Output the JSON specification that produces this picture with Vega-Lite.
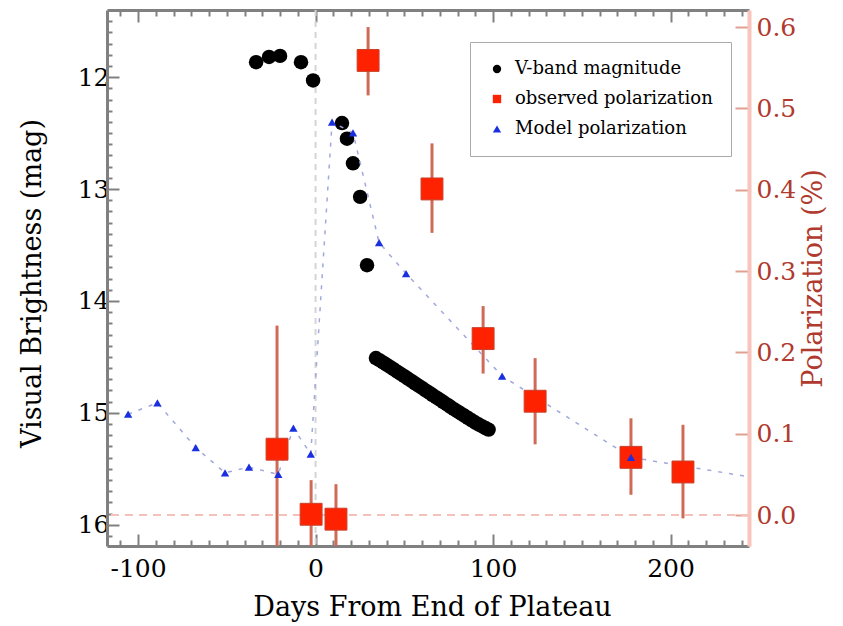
{
  "$schema": "https://vega.github.io/schema/vega-lite/v6.json",
  "width": 642,
  "height": 536,
  "autosize": {"type": "none"},
  "padding": {"left": 107, "top": 10, "right": 94, "bottom": 80},
  "background": "white",
  "config": {
    "font": "DejaVu Serif",
    "view": {"stroke": null},
    "axis": {"labelFont": "DejaVu Serif", "titleFont": "DejaVu Serif", "labelFontSize": 25, "titleFontSize": 27, "titleFontWeight": "normal", "grid": false, "labelColor": "#000000", "titleColor": "#000000"}
  },
  "datasets": {
    "vband": [
      {"day": -33.5, "mag": 11.866, "series": "V-band magnitude"},
      {"day": -26.2, "mag": 11.82, "series": "V-band magnitude"},
      {"day": -20.0, "mag": 11.81, "series": "V-band magnitude"},
      {"day": -8.2, "mag": 11.866, "series": "V-band magnitude"},
      {"day": -1.4, "mag": 12.03, "series": "V-band magnitude"},
      {"day": 14.9, "mag": 12.41, "series": "V-band magnitude"},
      {"day": 17.7, "mag": 12.55, "series": "V-band magnitude"},
      {"day": 21.1, "mag": 12.77, "series": "V-band magnitude"},
      {"day": 25.1, "mag": 13.07, "series": "V-band magnitude"},
      {"day": 29.0, "mag": 13.68, "series": "V-band magnitude"},
      {"day": 34, "mag": 14.51, "series": "V-band magnitude"},
      {"day": 36, "mag": 14.53, "series": "V-band magnitude"},
      {"day": 38, "mag": 14.55, "series": "V-band magnitude"},
      {"day": 40, "mag": 14.57, "series": "V-band magnitude"},
      {"day": 42, "mag": 14.59, "series": "V-band magnitude"},
      {"day": 44, "mag": 14.61, "series": "V-band magnitude"},
      {"day": 46, "mag": 14.632, "series": "V-band magnitude"},
      {"day": 48, "mag": 14.652, "series": "V-band magnitude"},
      {"day": 50, "mag": 14.673, "series": "V-band magnitude"},
      {"day": 52, "mag": 14.694, "series": "V-band magnitude"},
      {"day": 54, "mag": 14.715, "series": "V-band magnitude"},
      {"day": 56, "mag": 14.736, "series": "V-band magnitude"},
      {"day": 58, "mag": 14.757, "series": "V-band magnitude"},
      {"day": 60, "mag": 14.778, "series": "V-band magnitude"},
      {"day": 62, "mag": 14.8, "series": "V-band magnitude"},
      {"day": 64, "mag": 14.82, "series": "V-band magnitude"},
      {"day": 66, "mag": 14.841, "series": "V-band magnitude"},
      {"day": 68, "mag": 14.862, "series": "V-band magnitude"},
      {"day": 70, "mag": 14.883, "series": "V-band magnitude"},
      {"day": 72, "mag": 14.904, "series": "V-band magnitude"},
      {"day": 74, "mag": 14.925, "series": "V-band magnitude"},
      {"day": 76, "mag": 14.946, "series": "V-band magnitude"},
      {"day": 78, "mag": 14.967, "series": "V-band magnitude"},
      {"day": 80, "mag": 14.987, "series": "V-band magnitude"},
      {"day": 82, "mag": 15.007, "series": "V-band magnitude"},
      {"day": 84, "mag": 15.027, "series": "V-band magnitude"},
      {"day": 86, "mag": 15.047, "series": "V-band magnitude"},
      {"day": 88, "mag": 15.067, "series": "V-band magnitude"},
      {"day": 90, "mag": 15.087, "series": "V-band magnitude"},
      {"day": 92, "mag": 15.105, "series": "V-band magnitude"},
      {"day": 94, "mag": 15.122, "series": "V-band magnitude"},
      {"day": 96, "mag": 15.138, "series": "V-band magnitude"},
      {"day": 97.5, "mag": 15.15, "series": "V-band magnitude"}
    ],
    "observed": [
      {"day": -21.7, "pol": 0.081, "lo": -0.07, "hi": 0.233, "series": "observed polarization"},
      {"day": -2.5, "pol": 0.001, "lo": -0.045, "hi": 0.043, "series": "observed polarization"},
      {"day": 11.5, "pol": -0.005, "lo": -0.048, "hi": 0.038, "series": "observed polarization"},
      {"day": 29.6, "pol": 0.559, "lo": 0.516, "hi": 0.6, "series": "observed polarization"},
      {"day": 65.6, "pol": 0.401, "lo": 0.347, "hi": 0.457, "series": "observed polarization"},
      {"day": 94.4, "pol": 0.217, "lo": 0.174, "hi": 0.257, "series": "observed polarization"},
      {"day": 123.7, "pol": 0.14, "lo": 0.087, "hi": 0.193, "series": "observed polarization"},
      {"day": 177.7, "pol": 0.071, "lo": 0.025, "hi": 0.119, "series": "observed polarization"},
      {"day": 207.0, "pol": 0.053, "lo": -0.004, "hi": 0.111, "series": "observed polarization"}
    ],
    "model": [
      {"day": -105.6, "pol": 0.124, "series": "Model polarization"},
      {"day": -89.1, "pol": 0.138, "series": "Model polarization"},
      {"day": -67.5, "pol": 0.083, "series": "Model polarization"},
      {"day": -51.0, "pol": 0.052, "series": "Model polarization"},
      {"day": -37.5, "pol": 0.059, "series": "Model polarization"},
      {"day": -21.0, "pol": 0.05, "series": "Model polarization"},
      {"day": -12.5, "pol": 0.107, "series": "Model polarization"},
      {"day": -2.7, "pol": 0.075, "series": "Model polarization"},
      {"day": 9.3, "pol": 0.483, "series": "Model polarization"},
      {"day": 21.1, "pol": 0.47, "series": "Model polarization"},
      {"day": 35.8, "pol": 0.335, "series": "Model polarization"},
      {"day": 51.0, "pol": 0.297, "series": "Model polarization"},
      {"day": 105.1, "pol": 0.171, "series": "Model polarization"},
      {"day": 177.7, "pol": 0.071, "series": "Model polarization"},
      {"day": 250, "pol": 0.045, "series": "Model polarization"}
    ]
  },
  "layer": [
    {
      "layer": [
        {
          "data": {"values": [{"day": 0}]},
          "mark": {"type": "rule", "color": "#d4d4d4", "strokeWidth": 2, "strokeDash": [6, 5]},
          "encoding": {
            "x": {"field": "day", "type": "quantitative", "scale": {"domain": [-117.5, 244.2], "nice": false, "zero": false},
              "axis": {"orient": "bottom", "title": "Days From End of Plateau", "values": [-110,-100,-90,-80,-70,-60,-50,-40,-30,-20,-10,0,10,20,30,40,50,60,70,80,90,100,110,120,130,140,150,160,170,180,190,200,210,220,230,240],
                "labelExpr": "datum.value % 100 === 0 ? (datum.value < 0 ? '-' + abs(datum.value) : '' + datum.value) : ''",
                "tickSize": {"condition": {"test": "datum.value % 100 === 0", "value": -12}, "value": -6},
                "tickColor": "#808080", "tickWidth": 2, "domainColor": "#808080", "domainWidth": 3, "labelPadding": 22, "labelFlush": false, "labelOverlap": false,
                "titleX": 325, "titleY": 61, "titleBaseline": "middle"}}
          }
        },
        {
          "data": {"name": "vband"},
          "mark": {"type": "point", "filled": true, "size": 210, "opacity": 1},
          "encoding": {
            "x": {"field": "day", "type": "quantitative", "scale": {"domain": [-117.5, 244.2], "nice": false, "zero": false},
              "axis": {"orient": "bottom", "title": "Days From End of Plateau", "values": [-110,-100,-90,-80,-70,-60,-50,-40,-30,-20,-10,0,10,20,30,40,50,60,70,80,90,100,110,120,130,140,150,160,170,180,190,200,210,220,230,240],
                "labelExpr": "datum.value % 100 === 0 ? (datum.value < 0 ? '-' + abs(datum.value) : '' + datum.value) : ''",
                "tickSize": {"condition": {"test": "datum.value % 100 === 0", "value": -12}, "value": -6},
                "tickColor": "#808080", "tickWidth": 2, "domainColor": "#808080", "domainWidth": 3, "labelPadding": 22, "labelFlush": false, "labelOverlap": false,
                "titleX": 325, "titleY": 61, "titleBaseline": "middle"}},
            "y": {"field": "mag", "type": "quantitative", "scale": {"domain": [11.4, 16.19], "reverse": true, "nice": false, "zero": false},
              "axis": {"orient": "left", "title": "Visual Brightness (mag)",
                "values": [11.5,11.6,11.7,11.8,11.9,12,12.1,12.2,12.3,12.4,12.5,12.6,12.7,12.8,12.9,13,13.1,13.2,13.3,13.4,13.5,13.6,13.7,13.8,13.9,14,14.1,14.2,14.3,14.4,14.5,14.6,14.7,14.8,14.9,15,15.1,15.2,15.3,15.4,15.5,15.6,15.7,15.8,15.9,16,16.1],
                "labelExpr": "abs(datum.value - round(datum.value)) < 0.01 ? '' + round(datum.value) : ''",
                "tickSize": {"condition": {"test": "abs(datum.value - round(datum.value)) < 0.01", "value": -12}, "value": -5},
                "tickColor": "#808080", "tickWidth": 2, "domainColor": "#808080", "domainWidth": 3, "labelPadding": 10, "labelFlush": false, "labelOverlap": false,
                "titleX": -75, "titleY": 273, "titleAngle": 270, "titleBaseline": "middle", "titleAlign": "center"}},
            "color": {"field": "series", "type": "nominal",
              "scale": {"domain": ["V-band magnitude", "observed polarization", "Model polarization"], "range": ["#000000", "#ff2200", "#1a30e0"]},
              "legend": {"title": null, "orient": "none", "legendX": 363, "legendY": 32, "padding": 18, "rowPadding": 12, "labelFontSize": 18, "labelFont": "DejaVu Serif", "labelLimit": 400, "symbolSize": 70, "labelOffset": 9, "strokeColor": "#aaaaaa", "fillColor": "#ffffff",
                "encode": {"labels": {"update": {"fill": {"signal": "datum.value === 'V-band magnitude' ? '#000000' : (datum.value === 'observed polarization' ? '#d03a20' : '#1a30e0')"}}}, "legend": {"update": {"strokeWidth": {"value": 4}}}}}},
            "shape": {"field": "series", "type": "nominal",
              "scale": {"domain": ["V-band magnitude", "observed polarization", "Model polarization"], "range": ["circle", "square", "triangle-up"]},
              "legend": {"title": null, "orient": "none", "legendX": 363, "legendY": 32, "padding": 18, "rowPadding": 12, "labelFontSize": 18, "labelFont": "DejaVu Serif", "labelLimit": 400, "symbolSize": 70, "labelOffset": 9, "strokeColor": "#aaaaaa", "fillColor": "#ffffff",
                "encode": {"labels": {"update": {"fill": {"signal": "datum.value === 'V-band magnitude' ? '#000000' : (datum.value === 'observed polarization' ? '#d03a20' : '#1a30e0')"}}}, "legend": {"update": {"strokeWidth": {"value": 4}}}}}}
          }
        }
      ]
    },
    {
      "layer": [
        {
          "data": {"values": [{"pol": 0}]},
          "mark": {"type": "rule", "color": "#f4c2b8", "strokeWidth": 2, "strokeDash": [8, 6]},
          "encoding": {
            "y": {"field": "pol", "type": "quantitative", "scale": {"domain": [-0.038, 0.621], "nice": false, "zero": false},
              "axis": {"orient": "right", "title": "Polarization (%)", "values": [0, 0.1, 0.2, 0.3, 0.4, 0.5, 0.6], "format": ".1f",
                "tickSize": -14, "tickColor": "#e0a090", "tickWidth": 2, "domainColor": "#f8c4bc", "domainWidth": 4, "labelColor": "#b03a2e", "titleColor": "#b03a2e", "labelPadding": 21, "labelFlush": false,
                "titleX": 64, "titleY": 268, "titleAngle": 270, "titleBaseline": "middle", "titleAlign": "center"}}
          }
        },
        {
          "data": {"name": "observed"},
          "mark": {"type": "rule", "color": "#d06a58", "strokeWidth": 3, "clip": true},
          "encoding": {
            "x": {"field": "day", "type": "quantitative", "scale": {"domain": [-117.5, 244.2], "nice": false, "zero": false},
              "axis": {"orient": "top", "title": null, "labels": false, "values": [-110,-100,-90,-80,-70,-60,-50,-40,-30,-20,-10,0,10,20,30,40,50,60,70,80,90,100,110,120,130,140,150,160,170,180,190,200,210,220,230,240],
                "tickSize": {"condition": {"test": "datum.value % 100 === 0", "value": -12}, "value": -6},
                "tickColor": "#808080", "tickWidth": 2, "domainColor": "#808080", "domainWidth": 3}},
            "y": {"field": "lo", "type": "quantitative", "scale": {"domain": [-0.038, 0.621], "nice": false, "zero": false},
              "axis": {"orient": "right", "title": "Polarization (%)", "values": [0, 0.1, 0.2, 0.3, 0.4, 0.5, 0.6], "format": ".1f",
                "tickSize": -14, "tickColor": "#e0a090", "tickWidth": 2, "domainColor": "#f8c4bc", "domainWidth": 4, "labelColor": "#b03a2e", "titleColor": "#b03a2e", "labelPadding": 21, "labelFlush": false,
                "titleX": 64, "titleY": 268, "titleAngle": 270, "titleBaseline": "middle", "titleAlign": "center"}},
            "y2": {"field": "hi"}
          }
        },
        {
          "data": {"name": "model"},
          "mark": {"type": "line", "color": "#a0a8dc", "strokeWidth": 1.5, "strokeDash": [4, 7], "clip": true},
          "encoding": {
            "x": {"field": "day", "type": "quantitative", "scale": {"domain": [-117.5, 244.2], "nice": false, "zero": false},
              "axis": {"orient": "top", "title": null, "labels": false, "values": [-110,-100,-90,-80,-70,-60,-50,-40,-30,-20,-10,0,10,20,30,40,50,60,70,80,90,100,110,120,130,140,150,160,170,180,190,200,210,220,230,240],
                "tickSize": {"condition": {"test": "datum.value % 100 === 0", "value": -12}, "value": -6},
                "tickColor": "#808080", "tickWidth": 2, "domainColor": "#808080", "domainWidth": 3}},
            "y": {"field": "pol", "type": "quantitative", "scale": {"domain": [-0.038, 0.621], "nice": false, "zero": false},
              "axis": {"orient": "right", "title": "Polarization (%)", "values": [0, 0.1, 0.2, 0.3, 0.4, 0.5, 0.6], "format": ".1f",
                "tickSize": -14, "tickColor": "#e0a090", "tickWidth": 2, "domainColor": "#f8c4bc", "domainWidth": 4, "labelColor": "#b03a2e", "titleColor": "#b03a2e", "labelPadding": 21, "labelFlush": false,
                "titleX": 64, "titleY": 268, "titleAngle": 270, "titleBaseline": "middle", "titleAlign": "center"}}
          }
        },
        {
          "data": {"name": "observed"},
          "mark": {"type": "point", "filled": true, "size": 480, "opacity": 1, "stroke": "#c8402a", "strokeWidth": 1},
          "encoding": {
            "x": {"field": "day", "type": "quantitative", "scale": {"domain": [-117.5, 244.2], "nice": false, "zero": false},
              "axis": {"orient": "top", "title": null, "labels": false, "values": [-110,-100,-90,-80,-70,-60,-50,-40,-30,-20,-10,0,10,20,30,40,50,60,70,80,90,100,110,120,130,140,150,160,170,180,190,200,210,220,230,240],
                "tickSize": {"condition": {"test": "datum.value % 100 === 0", "value": -12}, "value": -6},
                "tickColor": "#808080", "tickWidth": 2, "domainColor": "#808080", "domainWidth": 3}},
            "y": {"field": "pol", "type": "quantitative", "scale": {"domain": [-0.038, 0.621], "nice": false, "zero": false},
              "axis": {"orient": "right", "title": "Polarization (%)", "values": [0, 0.1, 0.2, 0.3, 0.4, 0.5, 0.6], "format": ".1f",
                "tickSize": -14, "tickColor": "#e0a090", "tickWidth": 2, "domainColor": "#f8c4bc", "domainWidth": 4, "labelColor": "#b03a2e", "titleColor": "#b03a2e", "labelPadding": 21, "labelFlush": false,
                "titleX": 64, "titleY": 268, "titleAngle": 270, "titleBaseline": "middle", "titleAlign": "center"}},
            "color": {"field": "series", "type": "nominal"},
            "shape": {"field": "series", "type": "nominal"}
          }
        },
        {
          "data": {"name": "model"},
          "mark": {"type": "point", "filled": true, "size": 70, "opacity": 1, "clip": true},
          "encoding": {
            "x": {"field": "day", "type": "quantitative", "scale": {"domain": [-117.5, 244.2], "nice": false, "zero": false},
              "axis": {"orient": "top", "title": null, "labels": false, "values": [-110,-100,-90,-80,-70,-60,-50,-40,-30,-20,-10,0,10,20,30,40,50,60,70,80,90,100,110,120,130,140,150,160,170,180,190,200,210,220,230,240],
                "tickSize": {"condition": {"test": "datum.value % 100 === 0", "value": -12}, "value": -6},
                "tickColor": "#808080", "tickWidth": 2, "domainColor": "#808080", "domainWidth": 3}},
            "y": {"field": "pol", "type": "quantitative", "scale": {"domain": [-0.038, 0.621], "nice": false, "zero": false},
              "axis": {"orient": "right", "title": "Polarization (%)", "values": [0, 0.1, 0.2, 0.3, 0.4, 0.5, 0.6], "format": ".1f",
                "tickSize": -14, "tickColor": "#e0a090", "tickWidth": 2, "domainColor": "#f8c4bc", "domainWidth": 4, "labelColor": "#b03a2e", "titleColor": "#b03a2e", "labelPadding": 21, "labelFlush": false,
                "titleX": 64, "titleY": 268, "titleAngle": 270, "titleBaseline": "middle", "titleAlign": "center"}},
            "color": {"field": "series", "type": "nominal"},
            "shape": {"field": "series", "type": "nominal"}
          }
        }
      ]
    }
  ],
  "resolve": {"scale": {"x": "independent", "y": "independent"}, "axis": {"x": "independent", "y": "independent"}}
}
